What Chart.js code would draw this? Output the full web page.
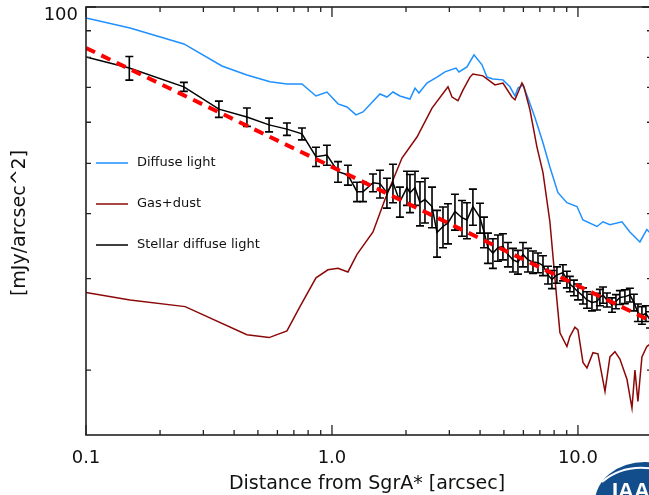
<!DOCTYPE html>
<html>
<head>
<meta charset="utf-8">
<script src="https://cdn.jsdelivr.net/npm/chart.js@4"></script>
<style>
  html, body { margin: 0; padding: 0; overflow: hidden; background: #fff; }
  #wrap { width: 660px; height: 495px; }
</style>
</head>
<body>
<div id="wrap"><canvas id="myChart" width="660" height="495"></canvas></div>
<script>
// Diffuse light profile (arcsec, mJy/arcsec^2)
const diffuseDist = [0.1, 0.151, 0.25, 0.357, 0.451, 0.56, 0.656, 0.755, 0.861, 0.954,
  1.058, 1.151, 1.252, 1.337, 1.567, 1.673, 1.77, 1.889, 2.075, 2.175,
  2.258, 2.432, 2.673, 2.88, 3.192, 3.282, 3.538, 3.779, 4.072, 4.268,
  4.511, 4.955, 5.29, 5.546, 5.703, 5.976, 6.263, 6.69, 7.208, 7.69,
  8.29, 9.018, 9.91, 10.48, 11.95, 12.64, 13.49, 15.1, 16.26, 17.86,
  19.06, 20.0];
const diffuseLight = [95.2, 91.1, 84.9, 77.0, 74.0, 71.8, 71.1, 71.1, 67.4, 68.6,
  65.1, 64.2, 62.0, 62.8, 68.0, 67.1, 68.6, 67.4, 66.5, 69.8,
  68.3, 71.4, 73.3, 75.0, 76.3, 75.0, 76.7, 80.9, 77.4, 73.3,
  72.7, 72.4, 70.2, 67.4, 69.8, 70.8, 66.8, 61.2, 54.8, 49.2,
  43.9, 42.0, 41.3, 38.9, 37.8, 38.6, 38.1, 38.6, 36.9, 35.3,
  37.3, 36.4];

// Gas + dust
const gasDist = [0.1, 0.151, 0.253, 0.451, 0.555, 0.656, 0.741, 0.861, 0.963, 1.058,
  1.161, 1.264, 1.468, 1.642, 1.926, 2.216, 2.551, 2.962, 3.076, 3.253,
  3.408, 3.639, 3.741, 4.11, 4.598, 4.955, 5.39, 5.546, 5.92, 6.03,
  6.38, 6.81, 7.208, 7.69, 8.21, 8.45, 9.018, 9.271, 9.72, 10.0,
  10.48, 10.88, 11.51, 12.06, 12.88, 13.49, 14.14, 14.81, 15.82, 16.58,
  17.05, 17.53, 18.2, 19.06, 20.0];
const gasDust = [28.2, 27.3, 26.5, 23.4, 23.1, 23.8, 26.5, 30.1, 31.2, 31.4,
  30.9, 33.4, 36.9, 42.6, 51.2, 56.2, 63.9, 70.2, 67.1, 66.0,
  69.2, 73.3, 74.3, 73.7, 70.8, 71.4, 67.1, 66.3, 71.4, 70.2,
  63.4, 53.8, 48.0, 38.6, 27.3, 23.6, 22.2, 23.2, 24.2, 23.9,
  20.7, 20.2, 21.6, 21.5, 18.2, 21.2, 21.7, 21.0, 19.2, 16.9,
  20.0, 17.4, 21.2, 22.2, 22.6];

// Stellar diffuse light with errors
const stellarDist = [0.1, 0.15, 0.25, 0.347, 0.451, 0.555, 0.656, 0.755, 0.861, 0.954,
  1.058, 1.161, 1.264, 1.337, 1.468, 1.567, 1.673, 1.77, 1.889, 2.018,
  2.075, 2.175, 2.279, 2.388, 2.551, 2.673, 2.827, 2.962, 3.162, 3.377,
  3.538, 3.741, 3.998, 4.15, 4.307, 4.511, 4.728, 4.955, 5.193, 5.442,
  5.703, 5.976, 6.263, 6.563, 6.878, 7.208, 7.553, 7.838, 8.214, 8.69,
  9.018, 9.271, 9.631, 10.0, 10.48, 10.88, 11.4, 11.95, 12.28, 12.64,
  13.12, 13.75, 14.27, 14.81, 15.52, 16.26, 16.89, 17.53, 18.2, 18.89,
  19.63];
const stellarLight = [80.1, 76.3, 70.2, 63.6, 61.4, 59.3, 58.2, 57.0, 51.5, 51.9,
  48.2, 47.5, 44.1, 44.1, 45.9, 45.7, 43.9, 45.9, 42.2, 44.9,
  43.9, 44.9, 42.0, 42.6, 41.3, 36.8, 37.8, 38.4, 40.4, 39.3,
  38.9, 41.3, 39.3, 36.9, 34.4, 33.6, 34.4, 34.6, 33.4, 32.6,
  32.3, 33.4, 32.6, 32.3, 32.2, 31.8, 30.5, 29.9, 30.5, 30.8,
  29.9, 29.3, 28.8, 28.3, 27.8, 27.3, 27.0, 27.1, 27.6, 27.9,
  27.3, 26.7, 27.1, 27.6, 27.7, 27.9, 27.0, 25.8, 25.5, 25.7,
  25.0];
const stellarErr = [0, 4.0, 1.4, 2.3, 2.5, 1.8, 1.6, 1.5, 2.2, 2.3,
  2.2, 2.1, 1.9, 1.9, 1.8, 2.8, 2.9, 3.9, 2.8, 3.4,
  3.7, 3.4, 4.1, 4.2, 3.7, 3.8, 3.4, 3.4, 3.2, 3.1,
  3.1, 3.3, 2.6, 2.5, 2.3, 2.2, 2.0, 2.0, 1.8, 1.7,
  1.7, 1.8, 1.7, 1.6, 1.4, 1.4, 1.2, 1.2, 1.1, 1.1,
  1.1, 1.0, 1.0, 1.0, 1.0, 1.0, 1.0, 1.0, 1.0, 1.0,
  0.85, 0.85, 0.85, 0.85, 0.85, 0.85, 1.0, 1.0, 1.0, 0.9,
  0.9];

// Power-law fit (end points)
const fitDist = [0.1, 20];
const fitValues = [83.4, 24.8];

const xTickValues = [0.1, 1, 10];
const xTickLabels = ["0.1", "1.0", "10.0"];
const yTickValues = [100];
const yTickLabels = ["100"];
const legendLabels = ["Diffuse light", "Gas+dust", "Stellar diffuse light"];

const FONT = "'DejaVu Sans', sans-serif";
const INK = "#111";

function toPoints(xs, ys) {
  return xs.map((x, i) => ({ x: x, y: ys[i] }));
}

const plotFrame = {
  id: "plotFrame",
  afterDatasetDraw(chart, args) {
    if (args.index !== 2) return;
    //Error bars for the stellar profile
    const ctx = chart.ctx;
    const xs = chart.scales.x;
    const ys = chart.scales.y;
    ctx.save();
    ctx.strokeStyle = "#000";
    ctx.lineWidth = 1.6;
    stellarDist.forEach((d, i) => {
      const e = stellarErr[i];
      if (!e) return;
      const px = xs.getPixelForValue(d);
      const top = ys.getPixelForValue(stellarLight[i] + e);
      const bot = ys.getPixelForValue(stellarLight[i] - e);
      ctx.beginPath();
      ctx.moveTo(px, top);
      ctx.lineTo(px, bot);
      ctx.moveTo(px - 4, top);
      ctx.lineTo(px + 4, top);
      ctx.moveTo(px - 4, bot);
      ctx.lineTo(px + 4, bot);
      ctx.stroke();
    });
    ctx.restore();
  },
  afterDraw(chart) {
    const ctx = chart.ctx;
    const a = chart.chartArea;
    const xs = chart.scales.x;
    const ys = chart.scales.y;
    ctx.save();
    ctx.strokeStyle = "#222";
    ctx.lineWidth = 1.6;
    ctx.strokeRect(a.left, a.top, a.right - a.left, a.bottom - a.top);

    //Inward ticks on all four sides
    ctx.lineWidth = 1.3;
    ctx.beginPath();
    [0.1, 1, 10].forEach((dec) => {
      for (let m = 1; m <= 9; m++) {
        const v = dec * m;
        if (v > 20.001) break;
        const px = xs.getPixelForValue(v);
        const len = m === 1 ? 10 : 5;
        ctx.moveTo(px, a.bottom);
        ctx.lineTo(px, a.bottom - len);
        ctx.moveTo(px, a.top);
        ctx.lineTo(px, a.top + len);
      }
    });
    for (let v = 20; v <= 100; v += 10) {
      const py = ys.getPixelForValue(v);
      const len = v === 100 ? 10 : 5;
      ctx.moveTo(a.left, py);
      ctx.lineTo(a.left + len, py);
      ctx.moveTo(a.right, py);
      ctx.lineTo(a.right - len, py);
    }
    ctx.stroke();

    //Tick labels
    ctx.fillStyle = INK;
    ctx.font = "18px " + FONT;
    ctx.textAlign = "center";
    ctx.textBaseline = "middle";
    xTickValues.forEach((v, i) => {
      ctx.fillText(xTickLabels[i], xs.getPixelForValue(v), a.bottom + 23);
    });
    ctx.textAlign = "right";
    yTickValues.forEach((v, i) => {
      ctx.fillText(yTickLabels[i], a.left - 8, ys.getPixelForValue(v) + 8);
    });

    //Axis titles
    ctx.font = "19px " + FONT;
    ctx.textAlign = "center";
    ctx.textBaseline = "alphabetic";
    ctx.fillText("Distance from SgrA* [arcsec]", (a.left + a.right) / 2 - 2, 489);
    ctx.save();
    ctx.translate(20, (a.top + a.bottom) / 2 + 2);
    ctx.rotate(-Math.PI / 2);
    ctx.textBaseline = "middle";
    ctx.fillText("[mJy/arcsec^2]", 0, 0);
    ctx.restore();

    //Legend
    ctx.font = "13px " + FONT;
    ctx.textAlign = "left";
    ctx.textBaseline = "middle";
    legendLabels.forEach((label, i) => {
      const ds = chart.data.datasets[i];
      const y = 163 + i * 41;
      ctx.strokeStyle = ds.borderColor;
      ctx.lineWidth = 1.5;
      ctx.beginPath();
      ctx.moveTo(96, y);
      ctx.lineTo(128, y);
      ctx.stroke();
      ctx.fillStyle = INK;
      ctx.fillText(label, 137, y);
    });

    //IAA logo
    ctx.fillStyle = "rgb(18, 78, 140)";
    ctx.beginPath();
    ctx.ellipse(645, 502, 50, 40, 0, 0, Math.PI * 2);
    ctx.fill();
    ctx.strokeStyle = "#fff";
    ctx.lineWidth = 2;
    ctx.beginPath();
    ctx.moveTo(602, 482);
    ctx.quadraticCurveTo(625, 462, 660, 470);
    ctx.stroke();
    ctx.fillStyle = "#fff";
    ctx.font = "bold 22px 'Liberation Sans', sans-serif";
    ctx.textAlign = "left";
    ctx.textBaseline = "alphabetic";
    ctx.fillText("IAA", 612, 498);
    ctx.restore();
  },
};

const ctx = document.getElementById("myChart");
new Chart(ctx, {
  type: "line",
  data: {
    datasets: [
      {
        label: "Diffuse light",
        data: toPoints(diffuseDist, diffuseLight),
        borderColor: "rgb(30, 144, 255)",
        borderWidth: 1.5,
        pointRadius: 0,
        tension: 0,
        order: 3,
      },
      {
        label: "Gas+dust",
        data: toPoints(gasDist, gasDust),
        borderColor: "rgb(140, 8, 8)",
        borderWidth: 1.5,
        pointRadius: 0,
        tension: 0,
        order: 2,
      },
      {
        label: "Stellar diffuse light",
        data: toPoints(stellarDist, stellarLight),
        borderColor: "rgb(0, 0, 0)",
        borderWidth: 1.5,
        pointRadius: 0,
        tension: 0,
        order: 1,
      },
      {
        label: "Fit",
        data: toPoints(fitDist, fitValues),
        borderColor: "rgb(255, 0, 0)",
        borderWidth: 4,
        borderDash: [10, 7],
        pointRadius: 0,
        tension: 0,
        order: 0,
      },
    ],
  },
  options: {
    responsive: false,
    animation: false,
    layout: {
      padding: { left: 86, top: 7, right: 8, bottom: 60 },
    },
    scales: {
      x: { type: "logarithmic", min: 0.1, max: 20, display: false },
      y: { type: "logarithmic", min: 15, max: 100, display: false },
    },
    plugins: {
      legend: { display: false },
      tooltip: { enabled: false },
    },
  },
  plugins: [plotFrame],
});
</script>
</body>
</html>
